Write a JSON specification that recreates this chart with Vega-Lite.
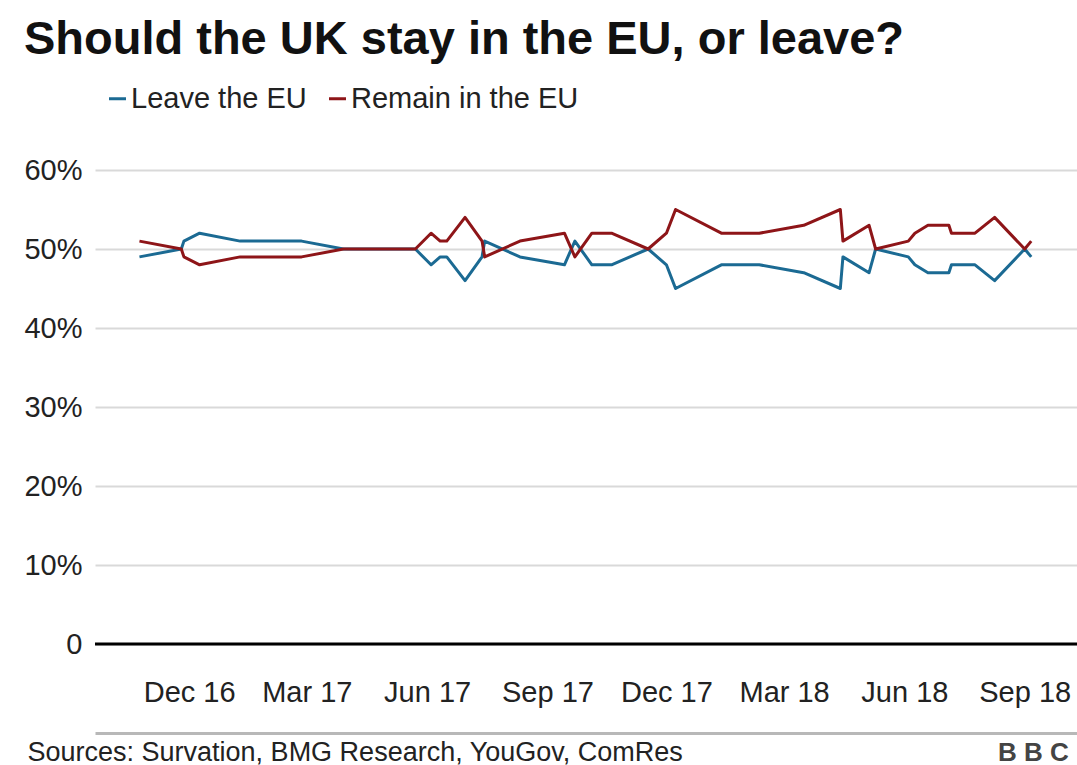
{
  "$schema": "https://vega.github.io/schema/vega-lite/v6.json",
  "width": 982,
  "height": 474,
  "autosize": "none",
  "padding": {"left": 95, "top": 170, "right": 0, "bottom": 121},
  "background": "white",
  "title": {
    "text": "Should the UK stay in the EU, or leave?",
    "anchor": "start",
    "frame": "bounds",
    "font": "Liberation Sans",
    "fontSize": 47,
    "fontWeight": "bold",
    "color": "#111111",
    "offset": 20
  },
  "config": {"view": {"stroke": null}, "font": "Liberation Sans"},
  "layer": [
    {
      "data": {
        "values": [
          {"date": "2016-10-24", "Leave the EU": 49, "Remain in the EU": 51},
          {"date": "2016-11-25", "Leave the EU": 50, "Remain in the EU": 50},
          {"date": "2016-11-27", "Leave the EU": 51, "Remain in the EU": 49},
          {"date": "2016-12-09", "Leave the EU": 52, "Remain in the EU": 48},
          {"date": "2017-01-09", "Leave the EU": 51, "Remain in the EU": 49},
          {"date": "2017-02-25", "Leave the EU": 51, "Remain in the EU": 49},
          {"date": "2017-03-29", "Leave the EU": 50, "Remain in the EU": 50},
          {"date": "2017-05-23", "Leave the EU": 50, "Remain in the EU": 50},
          {"date": "2017-06-04", "Leave the EU": 48, "Remain in the EU": 52},
          {"date": "2017-06-11", "Leave the EU": 49, "Remain in the EU": 51},
          {"date": "2017-06-16", "Leave the EU": 49, "Remain in the EU": 51},
          {"date": "2017-06-30", "Leave the EU": 46, "Remain in the EU": 54},
          {"date": "2017-07-13", "Leave the EU": 49, "Remain in the EU": 51},
          {"date": "2017-07-15", "Leave the EU": 51, "Remain in the EU": 49},
          {"date": "2017-08-11", "Leave the EU": 49, "Remain in the EU": 51},
          {"date": "2017-09-14", "Leave the EU": 48, "Remain in the EU": 52},
          {"date": "2017-09-22", "Leave the EU": 51, "Remain in the EU": 49},
          {"date": "2017-10-05", "Leave the EU": 48, "Remain in the EU": 52},
          {"date": "2017-10-20", "Leave the EU": 48, "Remain in the EU": 52},
          {"date": "2017-11-17", "Leave the EU": 50, "Remain in the EU": 50},
          {"date": "2017-12-01", "Leave the EU": 48, "Remain in the EU": 52},
          {"date": "2017-12-08", "Leave the EU": 45, "Remain in the EU": 55},
          {"date": "2018-01-12", "Leave the EU": 48, "Remain in the EU": 52},
          {"date": "2018-02-10", "Leave the EU": 48, "Remain in the EU": 52},
          {"date": "2018-03-16", "Leave the EU": 47, "Remain in the EU": 53},
          {"date": "2018-04-13", "Leave the EU": 45, "Remain in the EU": 55},
          {"date": "2018-04-15", "Leave the EU": 49, "Remain in the EU": 51},
          {"date": "2018-05-05", "Leave the EU": 47, "Remain in the EU": 53},
          {"date": "2018-05-10", "Leave the EU": 50, "Remain in the EU": 50},
          {"date": "2018-06-04", "Leave the EU": 49, "Remain in the EU": 51},
          {"date": "2018-06-09", "Leave the EU": 48, "Remain in the EU": 52},
          {"date": "2018-06-19", "Leave the EU": 47, "Remain in the EU": 53},
          {"date": "2018-07-05", "Leave the EU": 47, "Remain in the EU": 53},
          {"date": "2018-07-07", "Leave the EU": 48, "Remain in the EU": 52},
          {"date": "2018-07-25", "Leave the EU": 48, "Remain in the EU": 52},
          {"date": "2018-08-09", "Leave the EU": 46, "Remain in the EU": 54},
          {"date": "2018-09-01", "Leave the EU": 50, "Remain in the EU": 50},
          {"date": "2018-09-06", "Leave the EU": 49, "Remain in the EU": 51}
        ]
      },
      "transform": [{"fold": ["Leave the EU", "Remain in the EU"], "as": ["series", "pct"]}],
      "mark": {"type": "line", "strokeWidth": 3, "strokeJoin": "round"},
      "encoding": {
        "x": {
          "field": "date",
          "type": "temporal",
          "scale": {"domain": [{"year": 2016, "month": 9, "date": 20}, {"year": 2018, "month": 10, "date": 11}]},
          "axis": {
            "values": [
              {"year": 2016, "month": 12, "date": 1},
              {"year": 2017, "month": 3, "date": 1},
              {"year": 2017, "month": 6, "date": 1},
              {"year": 2017, "month": 9, "date": 1},
              {"year": 2017, "month": 12, "date": 1},
              {"year": 2018, "month": 3, "date": 1},
              {"year": 2018, "month": 6, "date": 1},
              {"year": 2018, "month": 9, "date": 1}
            ],
            "format": "%b %y",
            "title": "Sources: Survation, BMG Research, YouGov, ComRes",
            "grid": false,
            "ticks": false,
            "tickSize": 0,
            "domainColor": "#b8b8b8",
            "domainWidth": 3,
            "offset": 89,
            "labelPadding": -41,
            "labelBaseline": "middle",
            "labelFontSize": 29,
            "labelColor": "#222222",
            "labelFlush": false,
            "labelOverlap": false,
            "titleAnchor": "start",
            "titleAlign": "left",
            "titleX": -68,
            "titleY": 19,
            "titleBaseline": "middle",
            "titleFontSize": 27,
            "titleFontWeight": "normal",
            "titleColor": "#222222"
          }
        },
        "y": {
          "field": "pct",
          "type": "quantitative",
          "scale": {"domain": [0, 60], "nice": false},
          "axis": {
            "values": [0, 10, 20, 30, 40, 50, 60],
            "labelExpr": "datum.value == 0 ? '0' : datum.value + '%'",
            "grid": true,
            "gridColor": "#d9d9d9",
            "gridWidth": 2,
            "domain": false,
            "ticks": false,
            "labelPadding": 13,
            "labelFontSize": 29,
            "labelColor": "#222222",
            "labelBaseline": "middle",
            "title": "B B C",
            "titleAngle": 0,
            "titleX": 938,
            "titleY": 582,
            "titleAlign": "center",
            "titleBaseline": "middle",
            "titleFontSize": 26,
            "titleFontWeight": "bold",
            "titleColor": "#444444"
          }
        },
        "color": {
          "field": "series",
          "type": "nominal",
          "scale": {"domain": ["Leave the EU", "Remain in the EU"], "range": ["#1b6a93", "#8e1518"]},
          "legend": {
            "orient": "none",
            "legendX": 8,
            "legendY": -86,
            "direction": "horizontal",
            "title": null,
            "symbolType": "stroke",
            "symbolStrokeWidth": 3,
            "symbolSize": 289,
            "labelFontSize": 29,
            "labelColor": "#222222",
            "labelOffset": -1,
            "labelLimit": 0,
            "columnPadding": 16,
            "labelFont": "Liberation Sans"
          }
        }
      }
    },
    {
      "data": {"values": [{"baseline": 0}]},
      "mark": {"type": "rule", "color": "#000000", "strokeWidth": 3},
      "encoding": {"y": {"field": "baseline", "type": "quantitative"}}
    }
  ]
}
